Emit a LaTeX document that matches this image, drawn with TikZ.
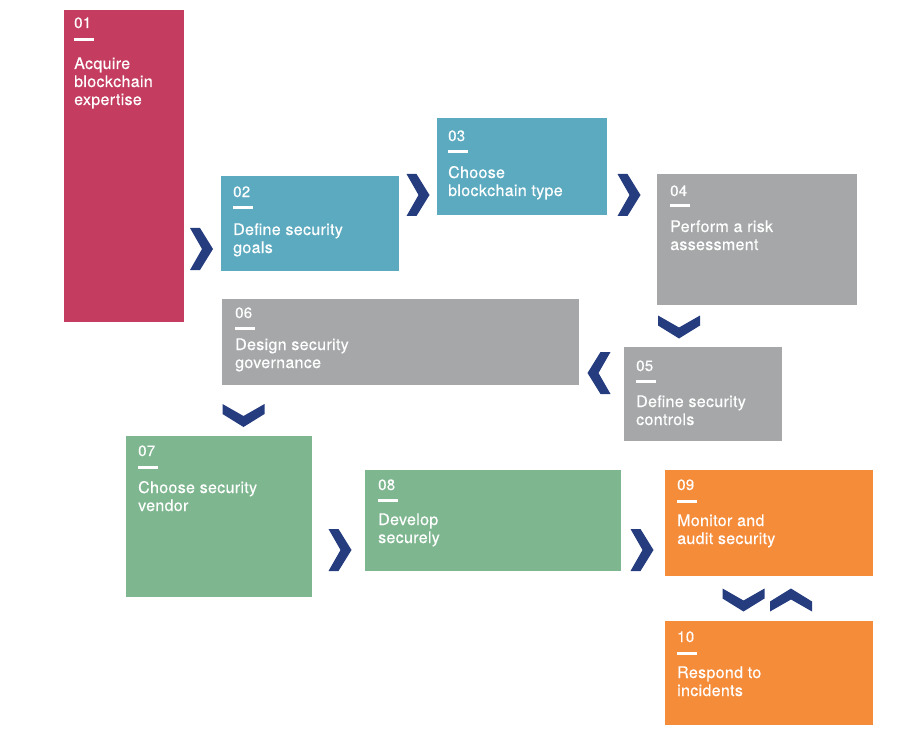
\documentclass[tikz,border=0pt]{standalone}
\usepackage{fontspec}
\newfontfamily\boxfont{TeX Gyre Heros}[LetterSpace=2.0,FakeBold=0.4]
\definecolor{crimson}{HTML}{C43D60}
\definecolor{teal}{HTML}{5BAAC0}
\definecolor{stone}{HTML}{A6A7A9}
\definecolor{sage}{HTML}{7DB68F}
\definecolor{amber}{HTML}{F58C3A}
\definecolor{navy}{HTML}{253C7F}
\begin{document}
\begin{tikzpicture}[x=1pt,y=-1pt,
  stepbox/.style={anchor=north west,inner sep=0,outer sep=0},
  num/.style={anchor=base west,inner sep=0,text=white,font=\boxfont\fontsize{15}{16}\selectfont},
  bar/.style={anchor=west,inner sep=0,fill=white,minimum width=20pt,minimum height=3pt},
  lbl/.style={anchor=base west,inner sep=0,text=white,align=left,font=\boxfont\fontsize{16}{18}\selectfont},
  chev/.pic={\fill[navy] (-11.5,-21) -- (-1.5,-21) -- (11.5,0) -- (-1.5,21) -- (-11.5,21) -- (0.5,0) -- cycle;}]
\useasboundingbox (0,0) rectangle (902,738);

%boxes
\node[stepbox,fill=crimson,minimum width=120pt,minimum height=312pt] (s01) at (64,10) {};
\node[stepbox,fill=teal,minimum width=178pt,minimum height=95pt] (s02) at (221,176) {};
\node[stepbox,fill=teal,minimum width=170pt,minimum height=97pt] (s03) at (437,118) {};
\node[stepbox,fill=stone,minimum width=200pt,minimum height=131pt] (s04) at (657,174) {};
\node[stepbox,fill=stone,minimum width=158pt,minimum height=94pt] (s05) at (624,347) {};
\node[stepbox,fill=stone,minimum width=357pt,minimum height=86pt] (s06) at (222,299) {};
\node[stepbox,fill=sage,minimum width=186pt,minimum height=161pt] (s07) at (126,436) {};
\node[stepbox,fill=sage,minimum width=256pt,minimum height=101pt] (s08) at (365,470) {};
\node[stepbox,fill=amber,minimum width=208pt,minimum height=106pt] (s09) at (665,470) {};
\node[stepbox,fill=amber,minimum width=208pt,minimum height=104pt] (s10) at (665,621) {};

%numbers
\node[num] (n01) at ([shift={(10,18)}]s01.north west) {01};
\node[num] (n02) at ([shift={(12,21)}]s02.north west) {02};
\node[num] (n03) at ([shift={(11,23)}]s03.north west) {03};
\node[num] (n04) at ([shift={(13,22)}]s04.north west) {04};
\node[num] (n05) at ([shift={(12,24)}]s05.north west) {05};
\node[num] (n06) at ([shift={(13,19)}]s06.north west) {06};
\node[num] (n07) at ([shift={(12,20)}]s07.north west) {07};
\node[num] (n08) at ([shift={(13,20)}]s08.north west) {08};
\node[num] (n09) at ([shift={(12,20)}]s09.north west) {09};
\node[num] (n10) at ([shift={(12,21)}]s10.north west) {10};

%bars
\node[bar] (d01) at ([shift={(10,30)}]s01.north west) {};
\node[bar] (d02) at ([shift={(12,32)}]s02.north west) {};
\node[bar] (d03) at ([shift={(11,34)}]s03.north west) {};
\node[bar] (d04) at ([shift={(13,32)}]s04.north west) {};
\node[bar] (d05) at ([shift={(12,34)}]s05.north west) {};
\node[bar] (d06) at ([shift={(13,29)}]s06.north west) {};
\node[bar] (d07) at ([shift={(12,31)}]s07.north west) {};
\node[bar] (d08) at ([shift={(13,30)}]s08.north west) {};
\node[bar] (d09) at ([shift={(12,31)}]s09.north west) {};
\node[bar] (d10) at ([shift={(12,32)}]s10.north west) {};

%labels (base = last line)
\node[lbl] (t01) at ([shift={(10,95)}]s01.north west) {Acquire\\blockchain\\expertise};
\node[lbl] (t02) at ([shift={(12,77)}]s02.north west) {Define security\\goals};
\node[lbl] (t03) at ([shift={(11,78)}]s03.north west) {Choose\\blockchain type};
\node[lbl] (t04) at ([shift={(13,76)}]s04.north west) {Perform a risk\\assessment};
\node[lbl] (t05) at ([shift={(12,78)}]s05.north west) {Define security\\controls};
\node[lbl] (t06) at ([shift={(13,69)}]s06.north west) {Design security\\governance};
\node[lbl] (t07) at ([shift={(12,75)}]s07.north west) {Choose security\\vendor};
\node[lbl] (t08) at ([shift={(13,73)}]s08.north west) {Develop\\securely};
\node[lbl] (t09) at ([shift={(12,74)}]s09.north west) {Monitor and\\audit security};
\node[lbl] (t10) at ([shift={(12,75)}]s10.north west) {Respond to\\incidents};

%chevrons
\pic at (201.5,249) {chev};
\pic at (418,195) {chev};
\pic at (629,195) {chev};
\pic[rotate=-90] at (679,327) {chev};
\pic[rotate=180] at (599,373) {chev};
\pic[rotate=-90] at (243.5,415.5) {chev};
\pic at (340,550) {chev};
\pic at (642,550) {chev};
\pic[rotate=-90] at (743.5,600) {chev};
\pic[rotate=90] at (791,600) {chev};
\end{tikzpicture}
\end{document}
